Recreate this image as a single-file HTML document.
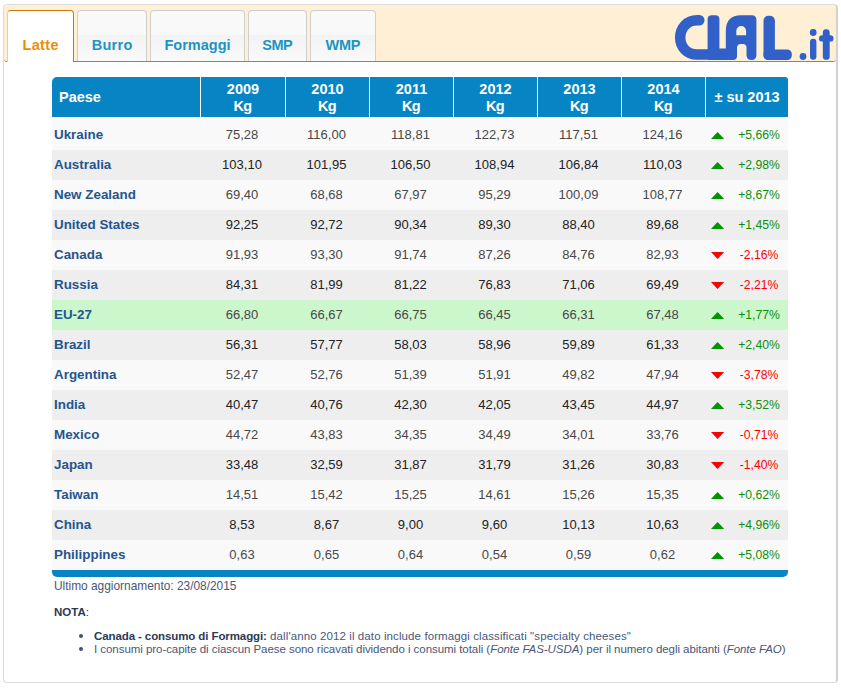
<!DOCTYPE html><html><head><meta charset="utf-8"><style>
*{margin:0;padding:0;box-sizing:border-box}
html,body{width:841px;height:688px;background:#fff;overflow:hidden;font-family:"Liberation Sans",sans-serif}
.abs{position:absolute}
#box{position:absolute;left:3px;top:4px;width:835px;height:679px;border:1px solid #dcdcdc;border-right:2px solid #d2d2d2;border-radius:4px;background:#fff}
#hdr{position:absolute;left:4px;top:5px;width:832px;height:57px;background:#ffefd5;border-bottom:1px solid #c97a08;border-radius:3px 3px 3px 3px}
.tab{position:absolute;top:10px;height:51px;border:1px solid #cfcfcf;border-bottom:none;border-radius:4px 4px 0 0;background:linear-gradient(#f9f9f9 0,#f9f9f9 48%,#f3f3f3 48%,#f9f9f9 100%);color:#1c94c4;font-weight:bold;font-size:14.5px;text-align:center;line-height:16px;padding-top:26px}
.tab.act{height:52px;background:#fff;color:#eb8f00;border-color:#c97a08;border-left-color:#f9d44e}
.th{position:absolute;top:77px;height:40px;padding-top:1px;background:#0784c3;color:#fff;font-weight:bold;font-size:14.5px;text-align:center;display:flex;align-items:center;justify-content:center;line-height:17px}
.row{position:absolute;left:52px;width:736px;height:30px}
.c{position:absolute;top:0;height:30px;line-height:30px;font-size:13px;text-align:center}
.nm{font-weight:bold;color:#255590;text-align:left;font-size:13.4px;line-height:29px}
.tri{position:absolute;width:0;height:0;border-left:6.5px solid transparent;border-right:6.5px solid transparent}
.up{border-bottom:7px solid #089608}
.dn{border-top:7px solid #f00}
.pc{position:absolute;top:0;height:30px;line-height:30px;font-size:12.2px;text-align:center;width:60px}
.g{color:#0d8f0d}
.r{color:#f00}
.note{position:absolute;font-size:11.5px;color:#48577a;white-space:nowrap;line-height:13px}
</style></head><body>
<div id="box"></div>
<div id="hdr"></div>
<div class="tab act" style="left:7px;width:67px;letter-spacing:0.35px;text-indent:0.35px">Latte</div>
<div class="tab" style="left:77px;width:70px;letter-spacing:0.3px;text-indent:0.3px">Burro</div>
<div class="tab" style="left:150px;width:95px;letter-spacing:0px;text-indent:0px">Formaggi</div>
<div class="tab" style="left:248px;width:59px;letter-spacing:-0.5px;text-indent:-0.5px">SMP</div>
<div class="tab" style="left:310px;width:66px;letter-spacing:-0.3px;text-indent:-0.3px">WMP</div>
<svg class="abs" style="left:0;top:0" width="841" height="70" viewBox="0 0 841 70">
<g fill="#3060c8">
<path d="M699.3,20.2 L697,20.2 C687,20.2 680.2,28 680.2,37.5 C680.2,47 687,54.5 697,54.5 L708,54.5" fill="none" stroke="#3060c8" stroke-width="10.5" stroke-linecap="round"/>
<rect x="707.6" y="15.2" width="11.8" height="44.8" rx="4"/>
<rect x="707.5" y="48.5" width="22" height="11.5" rx="2"/>
<path d="M725.8,56 L725.8,31 Q725.8,15.3 741,15.3 L751.9,15.3 Q756.4,15.3 756.4,19.8 L756.4,55 Q756.4,60 751.45,60 Q746.5,60 746.5,55 L746.5,47.8 Q746.5,44 742.7,44 L740.8,44 Q737,44 737,47.8 L737,56 Q737,60 733,60 L729.8,60 Q725.8,60 725.8,56 Z M736.3,35.2 L746.1,35.2 L746.1,31 A4.9,4.9 0 0 0 736.3,31 Z" fill-rule="evenodd"/>
<rect x="763.5" y="15.8" width="11.4" height="44.2" rx="5"/>
<rect x="763.5" y="49.5" width="28.3" height="10.5" rx="4.5"/>
<circle cx="803" cy="56.5" r="3.4"/>
<circle cx="813.2" cy="32.5" r="3.4"/>
<rect x="810" y="38.8" width="6.4" height="21" rx="3.2"/>
<rect x="822.8" y="29.3" width="6.9" height="30.5" rx="3.4"/>
<rect x="819" y="35.2" width="14.5" height="6.4" rx="3.2"/>
</g></svg>
<div class="th" style="left:52px;width:148px;border-top-left-radius:5px;justify-content:flex-start;padding-left:7px;"><div>Paese</div></div>
<div class="th" style="left:201px;width:84px;"><div>2009<br><span style="letter-spacing:-0.7px;margin-left:-1px">Kg</span></div></div>
<div class="th" style="left:286px;width:83px;"><div>2010<br><span style="letter-spacing:-0.7px;margin-left:-1px">Kg</span></div></div>
<div class="th" style="left:370px;width:83px;"><div>2011<br><span style="letter-spacing:-0.7px;margin-left:-1px">Kg</span></div></div>
<div class="th" style="left:454px;width:83px;"><div>2012<br><span style="letter-spacing:-0.7px;margin-left:-1px">Kg</span></div></div>
<div class="th" style="left:538px;width:83px;"><div>2013<br><span style="letter-spacing:-0.7px;margin-left:-1px">Kg</span></div></div>
<div class="th" style="left:622px;width:83px;"><div>2014<br><span style="letter-spacing:-0.7px;margin-left:-1px">Kg</span></div></div>
<div class="th" style="left:706px;width:82px;border-top-right-radius:3px;"><div>&plusmn; su 2013</div></div>
<div class="row" style="top:120px;background:#f9f9f9">
<div class="c nm" style="left:2px;width:140px">Ukraine</div>
<div class="c" style="left:148px;width:84px;color:#484848">75,28</div>
<div class="c" style="left:233px;width:83px;color:#484848">116,00</div>
<div class="c" style="left:317px;width:83px;color:#484848">118,81</div>
<div class="c" style="left:401px;width:83px;color:#484848">122,73</div>
<div class="c" style="left:485px;width:83px;color:#484848">117,51</div>
<div class="c" style="left:569px;width:83px;color:#484848">124,16</div>
<svg class="abs" style="left:658px;top:11px" width="16" height="10"><polygon points="1,8 14.2,8 7.6,1" fill="#009400"/></svg>
<div class="pc g" style="left:677px">+5,66%</div>
</div>
<div class="row" style="top:150px;background:#eeeeee">
<div class="c nm" style="left:2px;width:140px">Australia</div>
<div class="c" style="left:148px;width:84px;color:#222">103,10</div>
<div class="c" style="left:233px;width:83px;color:#222">101,95</div>
<div class="c" style="left:317px;width:83px;color:#222">106,50</div>
<div class="c" style="left:401px;width:83px;color:#222">108,94</div>
<div class="c" style="left:485px;width:83px;color:#222">106,84</div>
<div class="c" style="left:569px;width:83px;color:#222">110,03</div>
<svg class="abs" style="left:658px;top:11px" width="16" height="10"><polygon points="1,8 14.2,8 7.6,1" fill="#009400"/></svg>
<div class="pc g" style="left:677px">+2,98%</div>
</div>
<div class="row" style="top:180px;background:#f9f9f9">
<div class="c nm" style="left:2px;width:140px">New Zealand</div>
<div class="c" style="left:148px;width:84px;color:#484848">69,40</div>
<div class="c" style="left:233px;width:83px;color:#484848">68,68</div>
<div class="c" style="left:317px;width:83px;color:#484848">67,97</div>
<div class="c" style="left:401px;width:83px;color:#484848">95,29</div>
<div class="c" style="left:485px;width:83px;color:#484848">100,09</div>
<div class="c" style="left:569px;width:83px;color:#484848">108,77</div>
<svg class="abs" style="left:658px;top:11px" width="16" height="10"><polygon points="1,8 14.2,8 7.6,1" fill="#009400"/></svg>
<div class="pc g" style="left:677px">+8,67%</div>
</div>
<div class="row" style="top:210px;background:#eeeeee">
<div class="c nm" style="left:2px;width:140px">United States</div>
<div class="c" style="left:148px;width:84px;color:#222">92,25</div>
<div class="c" style="left:233px;width:83px;color:#222">92,72</div>
<div class="c" style="left:317px;width:83px;color:#222">90,34</div>
<div class="c" style="left:401px;width:83px;color:#222">89,30</div>
<div class="c" style="left:485px;width:83px;color:#222">88,40</div>
<div class="c" style="left:569px;width:83px;color:#222">89,68</div>
<svg class="abs" style="left:658px;top:11px" width="16" height="10"><polygon points="1,8 14.2,8 7.6,1" fill="#009400"/></svg>
<div class="pc g" style="left:677px">+1,45%</div>
</div>
<div class="row" style="top:240px;background:#f9f9f9">
<div class="c nm" style="left:2px;width:140px">Canada</div>
<div class="c" style="left:148px;width:84px;color:#484848">91,93</div>
<div class="c" style="left:233px;width:83px;color:#484848">93,30</div>
<div class="c" style="left:317px;width:83px;color:#484848">91,74</div>
<div class="c" style="left:401px;width:83px;color:#484848">87,26</div>
<div class="c" style="left:485px;width:83px;color:#484848">84,76</div>
<div class="c" style="left:569px;width:83px;color:#484848">82,93</div>
<svg class="abs" style="left:658px;top:11px" width="16" height="10"><polygon points="1,1 14.2,1 7.6,8" fill="#f00"/></svg>
<div class="pc r" style="left:677px">-2,16%</div>
</div>
<div class="row" style="top:270px;background:#eeeeee">
<div class="c nm" style="left:2px;width:140px">Russia</div>
<div class="c" style="left:148px;width:84px;color:#222">84,31</div>
<div class="c" style="left:233px;width:83px;color:#222">81,99</div>
<div class="c" style="left:317px;width:83px;color:#222">81,22</div>
<div class="c" style="left:401px;width:83px;color:#222">76,83</div>
<div class="c" style="left:485px;width:83px;color:#222">71,06</div>
<div class="c" style="left:569px;width:83px;color:#222">69,49</div>
<svg class="abs" style="left:658px;top:11px" width="16" height="10"><polygon points="1,1 14.2,1 7.6,8" fill="#f00"/></svg>
<div class="pc r" style="left:677px">-2,21%</div>
</div>
<div class="row" style="top:300px;background:#ccf6cc">
<div class="c nm" style="left:2px;width:140px">EU-27</div>
<div class="c" style="left:148px;width:84px;color:#484848">66,80</div>
<div class="c" style="left:233px;width:83px;color:#484848">66,67</div>
<div class="c" style="left:317px;width:83px;color:#484848">66,75</div>
<div class="c" style="left:401px;width:83px;color:#484848">66,45</div>
<div class="c" style="left:485px;width:83px;color:#484848">66,31</div>
<div class="c" style="left:569px;width:83px;color:#484848">67,48</div>
<svg class="abs" style="left:658px;top:11px" width="16" height="10"><polygon points="1,8 14.2,8 7.6,1" fill="#009400"/></svg>
<div class="pc g" style="left:677px">+1,77%</div>
</div>
<div class="row" style="top:330px;background:#eeeeee">
<div class="c nm" style="left:2px;width:140px">Brazil</div>
<div class="c" style="left:148px;width:84px;color:#222">56,31</div>
<div class="c" style="left:233px;width:83px;color:#222">57,77</div>
<div class="c" style="left:317px;width:83px;color:#222">58,03</div>
<div class="c" style="left:401px;width:83px;color:#222">58,96</div>
<div class="c" style="left:485px;width:83px;color:#222">59,89</div>
<div class="c" style="left:569px;width:83px;color:#222">61,33</div>
<svg class="abs" style="left:658px;top:11px" width="16" height="10"><polygon points="1,8 14.2,8 7.6,1" fill="#009400"/></svg>
<div class="pc g" style="left:677px">+2,40%</div>
</div>
<div class="row" style="top:360px;background:#f9f9f9">
<div class="c nm" style="left:2px;width:140px">Argentina</div>
<div class="c" style="left:148px;width:84px;color:#484848">52,47</div>
<div class="c" style="left:233px;width:83px;color:#484848">52,76</div>
<div class="c" style="left:317px;width:83px;color:#484848">51,39</div>
<div class="c" style="left:401px;width:83px;color:#484848">51,91</div>
<div class="c" style="left:485px;width:83px;color:#484848">49,82</div>
<div class="c" style="left:569px;width:83px;color:#484848">47,94</div>
<svg class="abs" style="left:658px;top:11px" width="16" height="10"><polygon points="1,1 14.2,1 7.6,8" fill="#f00"/></svg>
<div class="pc r" style="left:677px">-3,78%</div>
</div>
<div class="row" style="top:390px;background:#eeeeee">
<div class="c nm" style="left:2px;width:140px">India</div>
<div class="c" style="left:148px;width:84px;color:#222">40,47</div>
<div class="c" style="left:233px;width:83px;color:#222">40,76</div>
<div class="c" style="left:317px;width:83px;color:#222">42,30</div>
<div class="c" style="left:401px;width:83px;color:#222">42,05</div>
<div class="c" style="left:485px;width:83px;color:#222">43,45</div>
<div class="c" style="left:569px;width:83px;color:#222">44,97</div>
<svg class="abs" style="left:658px;top:11px" width="16" height="10"><polygon points="1,8 14.2,8 7.6,1" fill="#009400"/></svg>
<div class="pc g" style="left:677px">+3,52%</div>
</div>
<div class="row" style="top:420px;background:#f9f9f9">
<div class="c nm" style="left:2px;width:140px">Mexico</div>
<div class="c" style="left:148px;width:84px;color:#484848">44,72</div>
<div class="c" style="left:233px;width:83px;color:#484848">43,83</div>
<div class="c" style="left:317px;width:83px;color:#484848">34,35</div>
<div class="c" style="left:401px;width:83px;color:#484848">34,49</div>
<div class="c" style="left:485px;width:83px;color:#484848">34,01</div>
<div class="c" style="left:569px;width:83px;color:#484848">33,76</div>
<svg class="abs" style="left:658px;top:11px" width="16" height="10"><polygon points="1,1 14.2,1 7.6,8" fill="#f00"/></svg>
<div class="pc r" style="left:677px">-0,71%</div>
</div>
<div class="row" style="top:450px;background:#eeeeee">
<div class="c nm" style="left:2px;width:140px">Japan</div>
<div class="c" style="left:148px;width:84px;color:#222">33,48</div>
<div class="c" style="left:233px;width:83px;color:#222">32,59</div>
<div class="c" style="left:317px;width:83px;color:#222">31,87</div>
<div class="c" style="left:401px;width:83px;color:#222">31,79</div>
<div class="c" style="left:485px;width:83px;color:#222">31,26</div>
<div class="c" style="left:569px;width:83px;color:#222">30,83</div>
<svg class="abs" style="left:658px;top:11px" width="16" height="10"><polygon points="1,1 14.2,1 7.6,8" fill="#f00"/></svg>
<div class="pc r" style="left:677px">-1,40%</div>
</div>
<div class="row" style="top:480px;background:#f9f9f9">
<div class="c nm" style="left:2px;width:140px">Taiwan</div>
<div class="c" style="left:148px;width:84px;color:#484848">14,51</div>
<div class="c" style="left:233px;width:83px;color:#484848">15,42</div>
<div class="c" style="left:317px;width:83px;color:#484848">15,25</div>
<div class="c" style="left:401px;width:83px;color:#484848">14,61</div>
<div class="c" style="left:485px;width:83px;color:#484848">15,26</div>
<div class="c" style="left:569px;width:83px;color:#484848">15,35</div>
<svg class="abs" style="left:658px;top:11px" width="16" height="10"><polygon points="1,8 14.2,8 7.6,1" fill="#009400"/></svg>
<div class="pc g" style="left:677px">+0,62%</div>
</div>
<div class="row" style="top:510px;background:#eeeeee">
<div class="c nm" style="left:2px;width:140px">China</div>
<div class="c" style="left:148px;width:84px;color:#222">8,53</div>
<div class="c" style="left:233px;width:83px;color:#222">8,67</div>
<div class="c" style="left:317px;width:83px;color:#222">9,00</div>
<div class="c" style="left:401px;width:83px;color:#222">9,60</div>
<div class="c" style="left:485px;width:83px;color:#222">10,13</div>
<div class="c" style="left:569px;width:83px;color:#222">10,63</div>
<svg class="abs" style="left:658px;top:11px" width="16" height="10"><polygon points="1,8 14.2,8 7.6,1" fill="#009400"/></svg>
<div class="pc g" style="left:677px">+4,96%</div>
</div>
<div class="row" style="top:540px;background:#f9f9f9">
<div class="c nm" style="left:2px;width:140px">Philippines</div>
<div class="c" style="left:148px;width:84px;color:#484848">0,63</div>
<div class="c" style="left:233px;width:83px;color:#484848">0,65</div>
<div class="c" style="left:317px;width:83px;color:#484848">0,64</div>
<div class="c" style="left:401px;width:83px;color:#484848">0,54</div>
<div class="c" style="left:485px;width:83px;color:#484848">0,59</div>
<div class="c" style="left:569px;width:83px;color:#484848">0,62</div>
<svg class="abs" style="left:658px;top:11px" width="16" height="10"><polygon points="1,8 14.2,8 7.6,1" fill="#009400"/></svg>
<div class="pc g" style="left:677px">+5,08%</div>
</div>
<div class="abs" style="left:52px;top:570px;width:736px;height:7px;background:#0784c3;border-radius:0 0 5px 5px"></div>
<div class="note" style="left:54px;top:580px;font-size:11.9px">Ultimo aggiornamento: 23/08/2015</div>
<div class="note" style="left:54px;top:606px;color:#2c3a55"><b>NOTA</b>:</div>
<div class="abs" style="left:79px;top:634px;width:4px;height:4px;border-radius:50%;background:#3f5473"></div>
<div class="abs" style="left:79px;top:647px;width:4px;height:4px;border-radius:50%;background:#3f5473"></div>
<div class="note" style="left:94px;top:630px;letter-spacing:0.1px"><b style="color:#2c3a55;letter-spacing:-0.1px">Canada - consumo di Formaggi:</b> dall'anno 2012 il dato include formaggi classificati "specialty cheeses"</div>
<div class="note" style="left:94px;top:643px;letter-spacing:-0.05px">I consumi pro-capite di ciascun Paese sono ricavati dividendo i consumi totali (<i>Fonte FAS-USDA</i>) per il numero degli abitanti (<i>Fonte FAO</i>)</div>
</body></html>
